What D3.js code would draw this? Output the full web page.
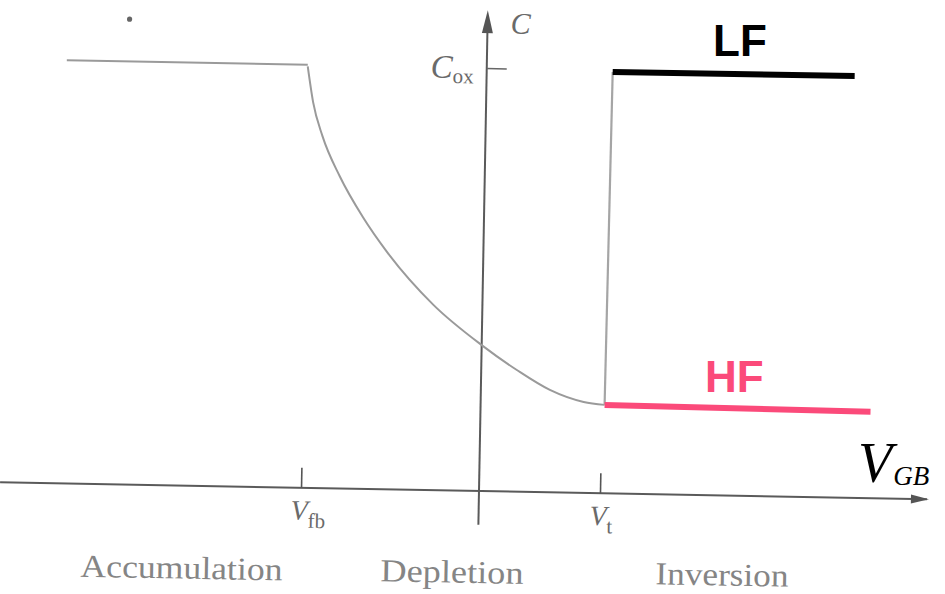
<!DOCTYPE html>
<html>
<head>
<meta charset="utf-8">
<script src="https://cdn.jsdelivr.net/npm/d3@7"></script>
<style>
  html, body { margin: 0; padding: 0; background: #fff; }
  svg { display: block; }
</style>
</head>
<body>
<svg id="chart" width="945" height="594"></svg>
<script>
// ---- Data (V in volts-like units, C normalised to Cox = 1) ----
const accV = [-4.20, -1.79];
const accC = [1.0, 1.0];
const depV = [-1.79, -1.73, -1.63, -1.45, -1.21, -0.97, -0.49, 0.0, 0.36, 0.69, 1.03, 1.24];
const depC = [0.996, 0.912, 0.832, 0.738, 0.642, 0.563, 0.438, 0.345, 0.287, 0.242, 0.215, 0.209];
const stepV = [1.24, 1.26];
const stepC = [0.209, 0.996];
const lfV = [1.26, 3.68];
const lfC = [0.996, 0.997];
const hfV = [1.24, 3.90];
const hfC = [0.209, 0.204];
const tickV = [-1.78, 1.21];
const tickMain = ["V", "V"];
const tickSub = ["fb", "t"];
const coxC = 1.0;
const regionNames = ["Accumulation", "Depletion", "Inversion"];
const regionStartV = [-3.97, -0.97, 1.78];
const regionWidth = [202, 143, 133];
const xAxisV = [-4.79, 4.48];
const yAxisC = [-0.08, 1.137];

const svg = d3.select("#chart");
const x = d3.scaleLinear().domain([-4.79, 4.48]).range([0, 927]);
const y = d3.scaleLinear().domain([0, 1]).range([491, 68]);

// the scanned figure is slightly rotated
const g = svg.append("g").attr("transform", "rotate(1.05, 479, 491)");

const line = d3.line().x(d => x(d[0])).y(d => y(d[1]));
const zip = (a, b) => a.map((v, i) => [v, b[i]]);

// stray speck
g.append("circle").attr("cx", x(-3.58)).attr("cy", y(1.10)).attr("r", 2.6).attr("fill", "#666");

// horizontal axis
g.append("path").attr("d", line(zip(xAxisV, [0, 0])))
  .attr("stroke", "#5a5a5a").attr("stroke-width", 2).attr("fill", "none");
{
  const tx = x(xAxisV[1]) + 2, ty = y(0);
  g.append("path").attr("d", `M${tx},${ty} L${tx - 18},${ty - 4.5} L${tx - 18},${ty + 4.5} Z`).attr("fill", "#555");
}
const xAxis = d3.axisTop(x).tickValues(tickV).tickSize(20).tickSizeOuter(0).tickFormat("");
const xa = g.append("g").attr("transform", `translate(0,${y(0)})`).call(xAxis);
xa.select(".domain").remove();
xa.selectAll(".tick line").attr("stroke", "#555").attr("stroke-width", 1.6);

// vertical axis
g.append("path").attr("d", line([[0, yAxisC[0]], [0, yAxisC[1] - 0.03]]))
  .attr("stroke", "#5a5a5a").attr("stroke-width", 2).attr("fill", "none");
{
  const tx = x(0), ty = y(yAxisC[1]);
  g.append("path").attr("d", `M${tx},${ty} L${tx - 5.5},${ty + 23} L${tx + 5.5},${ty + 23} Z`).attr("fill", "#555");
}
const yAxis = d3.axisRight(y).tickValues([coxC]).tickSize(20).tickSizeOuter(0).tickFormat("");
const ya = g.append("g").attr("transform", `translate(${x(0)},0)`).call(yAxis);
ya.select(".domain").remove();
ya.selectAll(".tick line").attr("stroke", "#666").attr("stroke-width", 1.6);

// axis text (scanned, gray serif)
const serif = "'Liberation Serif', 'DejaVu Serif', serif";
g.append("text").attr("x", x(0) + 23).attr("y", y(1.083))
  .attr("font-family", serif).attr("font-style", "italic").attr("font-size", 30).attr("fill", "#6a6a6a").text("C");
const cox = g.append("text").attr("x", x(0) - 13).attr("y", y(0.975)).attr("text-anchor", "end")
  .attr("font-family", serif).attr("fill", "#6a6a6a");
cox.append("tspan").attr("font-style", "italic").attr("font-size", 33).text("C");
cox.append("tspan").attr("font-size", 21).attr("dy", 5).text("ox");

tickV.forEach((v, i) => {
  const t = g.append("text").attr("x", x(v) - 10).attr("y", 523)
    .attr("font-family", serif).attr("fill", "#6a6a6a");
  t.append("tspan").attr("font-style", "italic").attr("font-size", 28).text(tickMain[i]);
  t.append("tspan").attr("font-size", 21).attr("dy", 8).text(tickSub[i]);
});

const regionY = [584, 583, 581];
regionNames.forEach((n, i) => {
  g.append("text").attr("x", x(regionStartV[i])).attr("y", regionY[i])
    .attr("font-family", serif).attr("font-size", 32).attr("fill", "#858585")
    .attr("textLength", regionWidth[i]).attr("lengthAdjust", "spacingAndGlyphs").text(n);
});

// C-V curve
g.append("path").attr("d", line(zip(accV, accC)))
  .attr("stroke", "#9a9a9a").attr("stroke-width", 2).attr("fill", "none");
g.append("path").attr("d", d3.line().x(d => x(d[0])).y(d => y(d[1])).curve(d3.curveMonotoneX)(zip(depV, depC)))
  .attr("stroke", "#9a9a9a").attr("stroke-width", 2).attr("fill", "none");
g.append("path").attr("d", line(zip(stepV, stepC)))
  .attr("stroke", "#a5a5a5").attr("stroke-width", 2.2).attr("fill", "none");
g.append("path").attr("d", line(zip(lfV, lfC)))
  .attr("stroke", "#000").attr("stroke-width", 6).attr("fill", "none");
g.append("path").attr("d", line(zip(hfV, hfC)))
  .attr("stroke", "#fb4a7a").attr("stroke-width", 6).attr("fill", "none");

// overlay labels (not rotated)
const sans = "'Liberation Sans', Arial, sans-serif";
svg.append("text").attr("x", 713).attr("y", 56).attr("font-family", sans).attr("font-weight", "bold")
  .attr("font-size", 44).attr("fill", "#000").text("LF");
svg.append("text").attr("x", 705).attr("y", 392).attr("font-family", sans).attr("font-weight", "bold")
  .attr("font-size", 44).attr("fill", "#fb4a7a").text("HF");
const vgb = svg.append("text").attr("x", 858).attr("y", 482).attr("font-family", serif).attr("font-style", "italic").attr("fill", "#000");
vgb.append("tspan").attr("font-size", 56).text("V");
vgb.append("tspan").attr("font-size", 27).attr("dx", 1).attr("dy", 3).text("GB");
</script>
</body>
</html>
